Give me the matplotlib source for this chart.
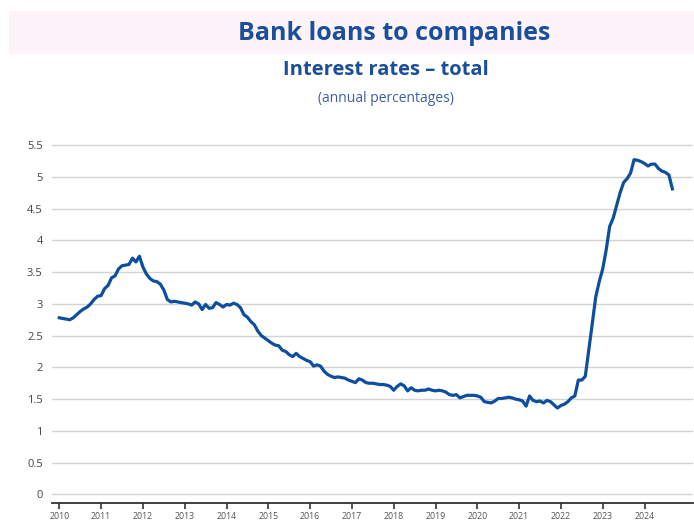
import matplotlib
matplotlib.use("Agg")
import matplotlib.pyplot as plt
from matplotlib.patches import Rectangle
import numpy as np

plt.rcParams['font.family'] = ['Open Sans', 'DejaVu Sans']

title = "Bank loans to companies"
subtitle = "Interest rates – total"
note = "(annual percentages)"

start_year = 2010
start_month = 1  # January 2010, monthly data up to September 2024
rates = [
    # 2010
    2.78, 2.77, 2.76, 2.75, 2.78, 2.83, 2.88, 2.92, 2.95, 3.00, 3.07, 3.12,
    # 2011
    3.13, 3.24, 3.29, 3.41, 3.44, 3.55, 3.60, 3.61, 3.62, 3.72, 3.66, 3.75,
    # 2012
    3.58, 3.47, 3.40, 3.36, 3.35, 3.31, 3.22, 3.07, 3.03, 3.04, 3.03, 3.02,
    # 2013
    3.01, 3.00, 2.98, 3.03, 3.00, 2.91, 2.99, 2.93, 2.94, 3.02, 2.99, 2.95,
    # 2014
    2.99, 2.98, 3.01, 2.99, 2.94, 2.83, 2.79, 2.72, 2.67, 2.57, 2.50, 2.46,
    # 2015
    2.42, 2.38, 2.35, 2.34, 2.27, 2.25, 2.20, 2.17, 2.22, 2.17, 2.14, 2.11,
    # 2016
    2.09, 2.02, 2.04, 2.02, 1.94, 1.89, 1.86, 1.84, 1.85, 1.84, 1.83, 1.80,
    # 2017
    1.78, 1.76, 1.82, 1.80, 1.76, 1.75, 1.75, 1.74, 1.73, 1.73, 1.72, 1.70,
    # 2018
    1.64, 1.70, 1.74, 1.71, 1.63, 1.68, 1.64, 1.63, 1.64, 1.64, 1.66, 1.64,
    # 2019
    1.63, 1.64, 1.63, 1.61, 1.57, 1.56, 1.57, 1.52, 1.54, 1.56, 1.56, 1.56,
    # 2020
    1.55, 1.53, 1.46, 1.45, 1.44, 1.47, 1.51, 1.51, 1.52, 1.53, 1.52, 1.50,
    # 2021
    1.49, 1.47, 1.39, 1.55, 1.48, 1.46, 1.47, 1.44, 1.48, 1.46, 1.41, 1.36,
    # 2022
    1.40, 1.42, 1.46, 1.52, 1.55, 1.80, 1.80, 1.86, 2.27, 2.69, 3.11, 3.35,
    # 2023
    3.55, 3.85, 4.22, 4.35, 4.55, 4.75, 4.91, 4.97, 5.06, 5.27, 5.26, 5.24,
    # 2024
    5.21, 5.17, 5.20, 5.20, 5.13, 5.09, 5.07, 5.03, 4.81,
]
year_ticks = list(range(2010, 2025))
y_ticks = [0, 0.5, 1, 1.5, 2, 2.5, 3, 3.5, 4, 4.5, 5, 5.5]
y_tick_labels = ["0", "0.5", "1", "1.5", "2", "2.5", "3", "3.5", "4", "4.5", "5", "5.5"]

dates = start_year + (np.arange(len(rates)) + start_month - 1) / 12.0

W, H = 694, 520
fig = plt.figure(figsize=(W / 100, H / 100), dpi=100)

# title band
fig.patches.append(Rectangle((9 / W, 1 - 54 / H), 1 - 9 / W, 43 / H,
                             transform=fig.transFigure, facecolor='#fcf4f8',
                             edgecolor='none', zorder=0))

title_color = '#1b4e9b'
fig.text(394 / W, 1 - 33.5 / H, title, ha='center', va='center',
         fontsize=18, fontweight='bold', color=title_color)
fig.text(386 / W, 1 - 70 / H, subtitle, ha='center', va='center',
         fontsize=14.5, fontweight='bold', color=title_color)
fig.text(386 / W, 1 - 99 / H, note, ha='center', va='center',
         fontsize=10, color='#3f5f9e')

ax = fig.add_axes([52.5 / W, 1 - 503.3 / H, (693 - 52.5) / W, (503.3 - 138.7) / H])
ax.plot(dates, rates, color='#0d4f9e', linewidth=2.3, solid_joinstyle='round',
        zorder=3)

ax.set_xlim(2009.837, 2025.16)
ax.set_ylim(-0.14, 5.6)
ax.set_yticks(y_ticks)
ax.set_yticklabels(y_tick_labels)
ax.set_xticks(year_ticks)
ax.set_xticklabels([str(y) for y in year_ticks])

ax.grid(axis='y', color='#d3d3d3', linewidth=1.0)
ax.grid(axis='x', visible=False)
ax.set_axisbelow(True)

for s in ['top', 'right', 'left']:
    ax.spines[s].set_visible(False)
ax.spines['bottom'].set_color('#333333')
ax.spines['bottom'].set_linewidth(1.3)

ax.tick_params(axis='y', length=0, pad=7, labelsize=8, labelcolor='#444444')
ax.tick_params(axis='x', length=4, width=1.2, color='#333333', pad=2,
               labelsize=6.3, labelcolor='#555555')

fig.savefig('out.png', dpi=100)
